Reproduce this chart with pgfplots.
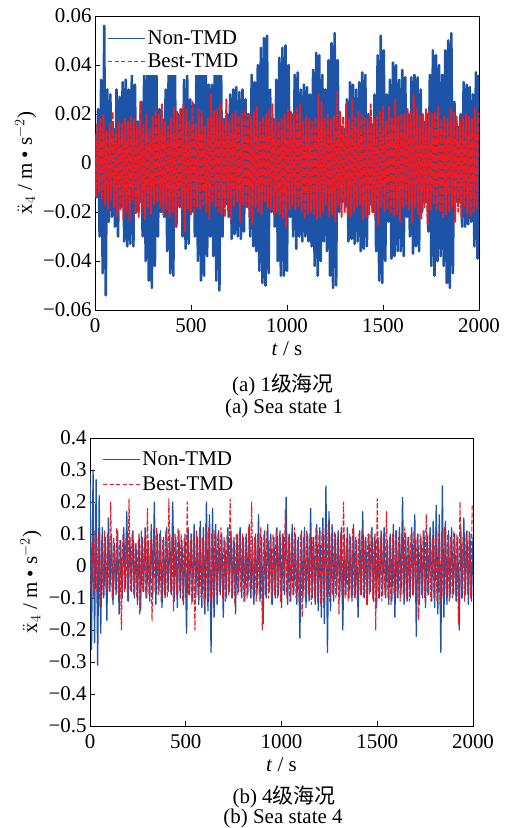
\documentclass[border=0pt]{standalone}
\usepackage{fontspec}
\setmainfont{Liberation Serif}
\newfontfamily\cjk{Noto Sans CJK SC}
\usepackage{pgfplots}
\pgfplotsset{compat=1.18}
\definecolor{nblue}{RGB}{30,84,168}
\definecolor{bred}{RGB}{236,28,36}
\newcommand{\bigf}{\fontsize{21}{24}\selectfont}
\pgfplotsset{myax/.style={
  scale only axis, xmin=0, xmax=2000,
  axis line style={line width=0.8pt},
  tick align=inside, tick pos=left,
  major tick length=5bp,
  tick style={line width=0.8pt, black},
  scaled y ticks=false,
  xtick={0,500,1000,1500,2000},
  xticklabels={0,500,1000,1500,2000},
  /pgf/number format/assume math mode=true,
  ticklabel style={font=\bigf},
  xticklabel style={yshift=-5bp},
  label style={font=\bigf},
  xlabel={\textit{t} / s},
  xlabel style={yshift=-2bp},
  ylabel={$\ddot{\mathrm{x}}_4$ / m • s$^{-2}$)},
  legend cell align=left,
  legend style={draw=none, fill=white, anchor=north west, font=\bigf,
     inner xsep=1bp, inner ysep=4bp, row sep=4bp,
     nodes={inner sep=2bp, font=\bigf}},
  legend image code/.code={\draw[#1] (0bp,0bp) -- (37bp,0bp);},
}}
\begin{document}
\begin{tikzpicture}
\useasboundingbox (0,0) rectangle (511bp,-828bp);
% ---------- (a) Sea state 1 ----------
\begin{axis}[myax, at={(95bp,-310bp)}, anchor=south west,
  width=384bp, height=294bp, ymin=-0.06, ymax=0.06,
  ytick={-0.06,-0.04,-0.02,0,0.02,0.04,0.06},
  yticklabels={−0.06,−0.04,−0.02,0,0.02,0.04,0.06},
  legend style={at={(axis description cs:0.03,0.972)}}]
\addplot[nblue, line width=2.6pt, line join=round, forget plot] coordinates {
(0,0.012)(8,-0.014)(16,0.022)(24,-0.03)(32,0.034)(40,-0.045)(48,0.056)(56,-0.054)(64,0.03)(72,-0.024)
(80,0.028)(88,-0.022)(96,0.014)(104,-0.026)(112,0.03)(120,-0.03)(128,0.027)(136,-0.018)(144,0.033)(152,-0.032)
(160,0.034)(168,-0.034)(176,0.03)(184,-0.033)(192,0.036)(200,-0.034)(208,0.032)(216,-0.02)(224,0.017)(232,-0.016)
(240,0.025)(248,-0.03)(256,0.036)(264,-0.04)(272,0.044)(280,-0.048)(288,0.05)(296,-0.051)(304,0.046)(312,-0.042)
(320,0.036)(328,-0.03)(336,0.022)(344,-0.02)(352,0.018)(360,-0.022)(368,0.03)(376,-0.036)(384,0.042)(392,-0.045)
(400,0.047)(408,-0.046)(416,0.04)(424,-0.026)(432,0.02)(440,-0.018)(448,0.022)(456,-0.03)(464,0.034)(472,-0.035)
(480,0.036)(488,-0.033)(496,0.026)(504,-0.02)(512,0.024)(520,-0.03)(528,0.036)(536,-0.04)(544,0.045)(552,-0.048)
(560,0.049)(568,-0.046)(576,0.042)(584,-0.038)(592,0.032)(600,-0.03)(608,0.032)(616,-0.038)(624,0.044)(632,-0.048)
(640,0.05)(648,-0.052)(656,0.046)(664,-0.03)(672,0.018)(680,-0.017)(688,0.02)(696,-0.022)(704,0.028)(712,-0.031)
(720,0.03)(728,-0.029)(736,0.031)(744,-0.03)(752,0.029)(760,-0.031)(768,0.03)(776,-0.028)(784,0.026)(792,-0.018)
(800,0.02)(808,-0.03)(816,0.036)(824,-0.034)(832,0.033)(840,-0.036)(848,0.04)(856,-0.044)(864,0.047)(872,-0.049)
(880,0.051)(888,-0.05)(896,0.052)(904,-0.045)(912,0.03)(920,-0.02)(928,0.018)(936,-0.026)(944,0.034)(952,-0.04)
(960,0.043)(968,-0.046)(976,0.047)(984,-0.046)(992,0.048)(1000,-0.044)(1008,0.04)(1016,-0.022)(1024,0.02)(1032,-0.03)
(1040,0.036)(1048,-0.035)(1056,0.037)(1064,-0.03)(1072,0.03)(1080,-0.032)(1088,0.032)(1096,-0.03)(1104,0.031)(1112,-0.032)
(1120,0.028)(1128,-0.034)(1136,0.038)(1144,-0.042)(1152,0.045)(1160,-0.046)(1168,0.044)(1176,-0.04)(1184,0.036)(1192,-0.032)
(1200,0.03)(1208,-0.036)(1216,0.042)(1224,-0.046)(1232,0.049)(1240,-0.051)(1248,0.053)(1256,-0.05)(1264,0.042)(1272,-0.02)
(1280,0.015)(1288,-0.016)(1296,0.014)(1304,-0.018)(1312,0.026)(1320,-0.032)(1328,0.033)(1336,-0.031)(1344,0.032)(1352,-0.033)
(1360,0.03)(1368,-0.032)(1376,0.033)(1384,-0.036)(1392,0.037)(1400,-0.035)(1408,0.036)(1416,-0.034)(1424,0.02)(1432,-0.017)
(1440,0.016)(1448,-0.02)(1456,0.028)(1464,-0.036)(1472,0.044)(1480,-0.048)(1488,0.052)(1496,-0.049)(1504,0.046)(1512,-0.04)
(1520,0.028)(1528,-0.024)(1536,0.034)(1544,-0.039)(1552,0.041)(1560,-0.038)(1568,0.04)(1576,-0.036)(1584,0.034)(1592,-0.036)
(1600,0.038)(1608,-0.038)(1616,0.035)(1624,-0.022)(1632,0.02)(1640,-0.03)(1648,0.035)(1656,-0.037)(1664,0.036)(1672,-0.034)
(1680,0.035)(1688,-0.036)(1696,0.03)(1704,-0.02)(1712,0.017)(1720,-0.016)(1728,0.02)(1736,-0.028)(1744,0.036)(1752,-0.042)
(1760,0.046)(1768,-0.046)(1776,0.044)(1784,-0.04)(1792,0.04)(1800,-0.038)(1808,0.036)(1816,-0.042)(1824,0.046)(1832,-0.049)
(1840,0.05)(1848,-0.051)(1856,0.053)(1864,-0.045)(1872,0.025)(1880,-0.016)(1888,0.015)(1896,-0.016)(1904,0.02)(1912,-0.026)
(1920,0.033)(1928,-0.026)(1936,0.032)(1944,-0.025)(1952,0.031)(1960,-0.024)(1968,0.028)(1976,-0.034)(1984,0.037)(1992,-0.039)(2000,0.036)
};
\addlegendimage{nblue, line width=0.8pt}
\addlegendentry{Non-TMD}
\addplot[bred, line width=1.9pt, line join=round, dash pattern=on 7bp off 1.5bp, forget plot] coordinates {
(4,-0.014)(12,0.016)(20,-0.012)(28,0.018)(36,-0.015)(44,0.02)(52,-0.017)(60,0.013)(68,-0.019)(76,0.016)
(84,-0.015)(92,0.021)(100,-0.018)(108,0.014)(116,-0.022)(124,0.017)(132,-0.019)(140,0.016)(148,-0.023)(156,0.018)
(164,-0.02)(172,0.017)(180,-0.024)(188,0.019)(196,-0.015)(204,0.018)(212,-0.021)(220,0.016)(228,-0.022)(236,0.025)
(244,-0.019)(252,0.016)(260,-0.023)(268,0.02)(276,-0.018)(284,0.014)(292,-0.021)(300,0.019)(308,-0.017)(316,0.022)
(324,-0.016)(332,0.02)(340,-0.018)(348,0.024)(356,-0.021)(364,0.017)(372,-0.019)(380,0.015)(388,-0.022)(396,0.018)
(404,-0.02)(412,0.023)(420,-0.026)(428,0.021)(436,-0.018)(444,0.022)(452,-0.019)(460,0.024)(468,-0.028)(476,0.022)
(484,-0.019)(492,0.017)(500,-0.021)(508,0.025)(516,-0.02)(524,0.016)(532,-0.018)(540,0.022)(548,-0.019)(556,0.021)
(564,-0.017)(572,0.015)(580,-0.02)(588,0.018)(596,-0.023)(604,0.028)(612,-0.016)(620,0.021)(628,-0.018)(636,0.022)
(644,-0.02)(652,0.024)(660,-0.021)(668,0.018)(676,-0.022)(684,0.026)(692,-0.019)(700,0.017)(708,-0.023)(716,0.02)
(724,-0.018)(732,0.021)(740,-0.016)(748,0.019)(756,-0.024)(764,0.02)(772,-0.017)(780,0.022)(788,-0.018)(796,0.02)
(804,-0.022)(812,0.019)(820,-0.025)(828,0.021)(836,-0.018)(844,0.023)(852,-0.02)(860,0.017)(868,-0.021)(876,0.019)
(884,-0.016)(892,0.02)(900,-0.018)(908,0.022)(916,-0.019)(924,0.024)(932,-0.021)(940,0.018)(948,-0.02)(956,0.017)
(964,-0.021)(972,0.018)(980,-0.023)(988,0.02)(996,-0.026)(1004,0.022)(1012,-0.019)(1020,0.021)(1028,-0.017)(1036,0.02)
(1044,-0.019)(1052,0.022)(1060,-0.018)(1068,0.024)(1076,-0.02)(1084,0.017)(1092,-0.023)(1100,0.019)(1108,-0.021)(1116,0.018)
(1124,-0.02)(1132,0.017)(1140,-0.021)(1148,0.019)(1156,-0.023)(1164,0.028)(1172,-0.022)(1180,0.025)(1188,-0.02)(1196,0.018)
(1204,-0.017)(1212,0.02)(1220,-0.022)(1228,0.018)(1236,-0.021)(1244,0.019)(1252,-0.024)(1260,0.029)(1268,-0.017)(1276,0.021)
(1284,-0.022)(1292,0.019)(1300,-0.02)(1308,0.024)(1316,-0.021)(1324,0.018)(1332,-0.022)(1340,0.026)(1348,-0.02)(1356,0.019)
(1364,-0.018)(1372,0.021)(1380,-0.017)(1388,0.02)(1396,-0.023)(1404,0.019)(1412,-0.022)(1420,0.018)(1428,-0.021)(1436,0.024)
(1444,-0.02)(1452,0.018)(1460,-0.022)(1468,0.019)(1476,-0.025)(1484,0.021)(1492,-0.018)(1500,0.023)(1508,-0.02)(1516,0.017)
(1524,-0.019)(1532,0.023)(1540,-0.02)(1548,0.018)(1556,-0.022)(1564,0.026)(1572,-0.021)(1580,0.019)(1588,-0.024)(1596,0.02)
(1604,-0.018)(1612,0.02)(1620,-0.017)(1628,0.022)(1636,-0.019)(1644,0.021)(1652,-0.024)(1660,0.028)(1668,-0.018)(1676,0.022)
(1684,-0.021)(1692,0.019)(1700,-0.023)(1708,0.02)(1716,-0.018)(1724,0.022)(1732,-0.025)(1740,0.021)(1748,-0.019)(1756,0.02)
(1764,-0.017)(1772,0.021)(1780,-0.019)(1788,0.023)(1796,-0.02)(1804,0.018)(1812,-0.022)(1820,0.019)(1828,-0.021)(1836,0.018)
(1844,-0.02)(1852,0.022)(1860,-0.018)(1868,0.021)(1876,-0.024)(1884,0.019)(1892,-0.02)(1900,0.017)(1908,-0.022)(1916,0.019)
(1924,-0.018)(1932,0.02)(1940,-0.021)(1948,0.019)(1956,-0.022)(1964,0.018)(1972,-0.02)(1980,0.023)(1988,-0.019)(1996,0.021)
};
\addlegendimage{bred, line width=0.8pt, dash pattern=on 4bp off 2.5bp}
\addlegendentry{Best-TMD}
\end{axis}
\node[font=\bigf] at (283bp,-385bp) {(a) 1{\cjk\fontsize{21}{24}\selectfont 级海况}};
\node[font=\bigf] at (284bp,-408bp) {(a) Sea state 1};
% ---------- (b) Sea state 4 ----------
\begin{axis}[myax, at={(90bp,-726bp)}, anchor=south west,
  width=383bp, height=288bp, ymin=-0.5, ymax=0.4,
  ytick={-0.5,-0.4,-0.3,-0.2,-0.1,0,0.1,0.2,0.3,0.4},
  yticklabels={−0.5,−0.4,−0.3,−0.2,−0.1,0,0.1,0.2,0.3,0.4},
  legend style={at={(axis description cs:0.03,0.975)}, row sep=6bp}]
\addplot[nblue, line width=1.3pt, line join=round, forget plot] coordinates {
(0,0.29)(8,-0.26)(16,0.30)(24,-0.24)(32,0.27)(40,-0.31)(48,0.22)(56,-0.21)(64,0.12)(72,-0.1)
(80,0.09)(88,-0.17)(96,0.15)(104,-0.08)(112,0.1)(120,-0.12)(128,0.07)(136,-0.09)(144,0.11)(152,-0.15)
(160,0.08)(168,-0.1)(176,0.12)(184,-0.07)(192,0.17)(200,-0.11)(208,0.09)(216,-0.08)(224,0.11)(232,-0.1)
(240,0.07)(248,-0.12)(256,0.1)(264,-0.14)(272,0.09)(280,-0.08)(288,0.12)(296,-0.1)(304,0.08)(312,-0.11)
(320,0.13)(328,-0.09)(336,0.2)(344,-0.12)(352,0.1)(360,-0.08)(368,0.11)(376,-0.13)(384,0.09)(392,-0.1)
(400,0.12)(408,-0.08)(416,0.1)(424,-0.09)(432,0.2)(440,-0.11)(448,0.09)(456,-0.13)(464,0.11)(472,-0.1)
(480,0.08)(488,-0.12)(496,0.1)(504,-0.21)(512,0.12)(520,-0.09)(528,0.1)(536,-0.11)(544,0.13)(552,-0.1)
(560,0.09)(568,-0.12)(576,0.14)(584,-0.13)(592,0.12)(600,-0.15)(608,0.2)(616,-0.14)(624,0.16)(632,-0.27)
(640,0.18)(648,-0.16)(656,0.13)(664,-0.12)(672,0.11)(680,-0.09)(688,0.1)(696,-0.16)(704,0.08)(712,-0.1)
(720,0.12)(728,-0.08)(736,0.11)(744,-0.1)(752,0.09)(760,-0.15)(768,0.1)(776,-0.08)(784,0.12)(792,-0.1)
(800,0.09)(808,-0.11)(816,0.1)(824,-0.09)(832,0.13)(840,-0.1)(848,0.08)(856,-0.12)(864,0.1)(872,-0.09)
(880,0.16)(888,-0.11)(896,0.09)(904,-0.18)(912,0.11)(920,-0.1)(928,0.13)(936,-0.08)(944,0.1)(952,-0.12)
(960,0.09)(968,-0.1)(976,0.12)(984,-0.09)(992,0.11)(1000,-0.13)(1008,0.1)(1016,-0.09)(1024,0.215)(1032,-0.12)
(1040,0.1)(1048,-0.11)(1056,0.13)(1064,-0.09)(1072,0.1)(1080,-0.12)(1088,0.09)(1096,-0.225)(1104,0.11)(1112,-0.1)
(1120,0.12)(1128,-0.13)(1136,0.1)(1144,-0.11)(1152,0.18)(1160,-0.1)(1168,0.09)(1176,-0.12)(1184,0.13)(1192,-0.14)
(1200,0.12)(1208,-0.16)(1216,0.15)(1224,-0.18)(1232,0.25)(1240,-0.27)(1248,0.17)(1256,-0.14)(1264,0.13)(1272,-0.11)
(1280,0.1)(1288,-0.09)(1296,0.11)(1304,-0.1)(1312,0.12)(1320,-0.2)(1328,0.1)(1336,-0.09)(1344,0.12)(1352,-0.1)
(1360,0.09)(1368,-0.11)(1376,0.13)(1384,-0.1)(1392,0.08)(1400,-0.16)(1408,0.11)(1416,-0.09)(1424,0.17)(1432,-0.1)
(1440,0.09)(1448,-0.12)(1456,0.1)(1464,-0.08)(1472,0.12)(1480,-0.11)(1488,0.1)(1496,-0.13)(1504,0.09)(1512,-0.1)
(1520,0.11)(1528,-0.09)(1536,0.12)(1544,-0.1)(1552,0.08)(1560,-0.12)(1568,0.1)(1576,-0.11)(1584,0.13)(1592,-0.16)
(1600,0.11)(1608,-0.1)(1616,0.12)(1624,-0.09)(1632,0.215)(1640,-0.12)(1648,0.1)(1656,-0.11)(1664,0.09)(1672,-0.1)
(1680,0.12)(1688,-0.09)(1696,0.16)(1704,-0.22)(1712,0.1)(1720,-0.12)(1728,0.09)(1736,-0.1)(1744,0.11)(1752,-0.13)
(1760,0.1)(1768,-0.09)(1776,0.12)(1784,-0.11)(1792,0.14)(1800,-0.13)(1808,0.19)(1816,-0.15)(1824,0.16)(1832,-0.27)
(1840,0.25)(1848,-0.16)(1856,0.14)(1864,-0.12)(1872,0.11)(1880,-0.1)(1888,0.12)(1896,-0.09)(1904,0.1)(1912,-0.11)
(1920,0.09)(1928,-0.2)(1936,0.12)(1944,-0.1)(1952,0.15)(1960,-0.09)(1968,0.11)(1976,-0.12)(1984,0.1)(1992,-0.11)(2000,0.09)
};
\addlegendimage{nblue, line width=0.8pt}
\addlegendentry{Non-TMD}
\addplot[bred, line width=1.1pt, line join=round, dash pattern=on 5bp off 2bp, forget plot] coordinates {
(4,-0.07)(12,0.09)(20,-0.1)(28,0.12)(36,-0.08)(44,0.1)(52,-0.13)(60,0.08)(68,-0.09)(76,0.11)
(84,-0.07)(92,0.1)(100,-0.08)(108,0.2)(116,-0.1)(124,0.09)(132,-0.07)(140,0.12)(148,-0.09)(156,0.08)
(164,-0.2)(172,0.1)(180,-0.08)(188,0.09)(196,-0.11)(204,0.21)(212,-0.08)(220,0.1)(228,-0.09)(236,0.07)
(244,-0.1)(252,0.08)(260,-0.15)(268,0.11)(276,-0.08)(284,0.09)(292,-0.1)(300,0.18)(308,-0.09)(316,0.08)
(324,-0.17)(332,0.1)(340,-0.08)(348,0.12)(356,-0.09)(364,0.1)(372,-0.11)(380,0.08)(388,-0.09)(396,0.11)
(404,-0.1)(412,0.21)(420,-0.08)(428,0.09)(436,-0.14)(444,0.1)(452,-0.09)(460,0.12)(468,-0.08)(476,0.1)
(484,-0.11)(492,0.09)(500,-0.1)(508,0.2)(516,-0.09)(524,0.08)(532,-0.12)(540,0.1)(548,-0.2)(556,0.11)
(564,-0.09)(572,0.12)(580,-0.1)(588,0.09)(596,-0.12)(604,0.13)(612,-0.1)(620,0.12)(628,-0.11)(636,0.1)
(644,-0.13)(652,0.11)(660,-0.09)(668,0.1)(676,-0.08)(684,0.12)(692,-0.1)(700,0.09)(708,-0.11)(716,0.1)
(724,-0.09)(732,0.21)(740,-0.1)(748,0.08)(756,-0.12)(764,0.1)(772,-0.09)(780,0.11)(788,-0.08)(796,0.1)
(804,-0.11)(812,0.09)(820,-0.1)(828,0.12)(836,-0.08)(844,0.2)(852,-0.1)(860,0.09)(868,-0.11)(876,0.1)
(884,-0.09)(892,0.12)(900,-0.2)(908,0.1)(916,-0.09)(924,0.11)(932,-0.1)(940,0.08)(948,-0.12)(956,0.1)
(964,-0.09)(972,0.11)(980,-0.1)(988,0.09)(996,-0.11)(1004,0.1)(1012,-0.08)(1020,0.18)(1028,-0.1)(1036,0.09)
(1044,-0.11)(1052,0.1)(1060,-0.09)(1068,0.12)(1076,-0.1)(1084,0.08)(1092,-0.11)(1100,0.1)(1108,-0.16)(1116,0.09)
(1124,-0.1)(1132,0.11)(1140,-0.09)(1148,0.1)(1156,-0.12)(1164,0.09)(1172,-0.1)(1180,0.12)(1188,-0.11)(1196,0.1)
(1204,-0.12)(1212,0.11)(1220,-0.13)(1228,0.12)(1236,-0.1)(1244,0.13)(1252,-0.11)(1260,0.1)(1268,-0.09)(1276,0.11)
(1284,-0.1)(1292,0.09)(1300,-0.15)(1308,0.1)(1316,-0.09)(1324,0.2)(1332,-0.1)(1340,0.09)(1348,-0.11)(1356,0.1)
(1364,-0.09)(1372,0.12)(1380,-0.1)(1388,0.09)(1396,-0.11)(1404,0.1)(1412,-0.09)(1420,0.11)(1428,-0.1)(1436,0.08)
(1444,-0.12)(1452,0.1)(1460,-0.09)(1468,0.11)(1476,-0.1)(1484,0.09)(1492,-0.2)(1500,0.21)(1508,-0.1)(1516,0.09)
(1524,-0.11)(1532,0.1)(1540,-0.09)(1548,0.17)(1556,-0.1)(1564,0.09)(1572,-0.12)(1580,0.1)(1588,-0.09)(1596,0.11)
(1604,-0.1)(1612,0.09)(1620,-0.11)(1628,0.1)(1636,-0.09)(1644,0.12)(1652,-0.1)(1660,0.09)(1668,-0.11)(1676,0.1)
(1684,-0.09)(1692,0.11)(1700,-0.1)(1708,0.09)(1716,-0.17)(1724,0.1)(1732,-0.09)(1740,0.11)(1748,-0.1)(1756,0.16)
(1764,-0.09)(1772,0.1)(1780,-0.11)(1788,0.09)(1796,-0.1)(1804,0.12)(1812,-0.11)(1820,0.1)(1828,-0.12)(1836,0.11)
(1844,-0.1)(1852,0.12)(1860,-0.09)(1868,0.1)(1876,-0.11)(1884,0.09)(1892,-0.1)(1900,0.11)(1908,-0.09)(1916,0.1)
(1924,-0.18)(1932,0.2)(1940,-0.1)(1948,0.09)(1956,-0.11)(1964,0.1)(1972,-0.09)(1980,0.11)(1988,-0.1)(1996,0.19)
};
\addlegendimage{bred, line width=0.8pt, dash pattern=on 4bp off 2.5bp}
\addlegendentry{Best-TMD}
\end{axis}
\node[font=\bigf] at (284bp,-797bp) {(b) 4{\cjk\fontsize{21}{24}\selectfont 级海况}};
\node[font=\bigf] at (283bp,-818bp) {(b) Sea state 4};
\end{tikzpicture}
\end{document}
